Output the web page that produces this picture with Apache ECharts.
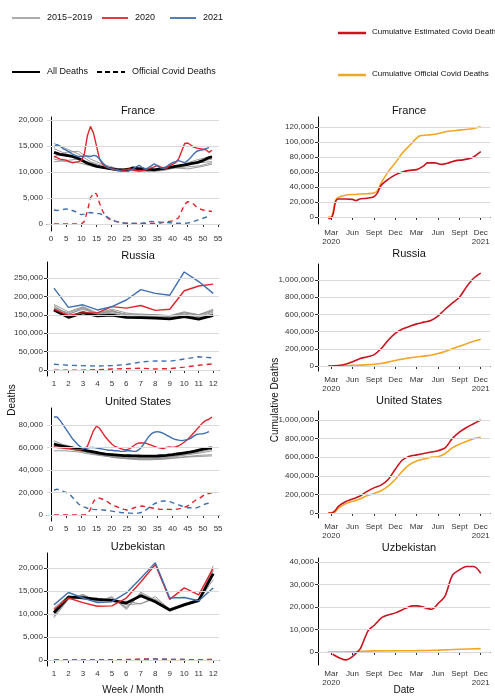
<!DOCTYPE html>
<html><head><meta charset="utf-8">
<script src="https://cdn.jsdelivr.net/npm/echarts@6/dist/echarts.min.js"></script>
<style>html,body{margin:0;padding:0;background:#fff}#c{width:495px;height:700px}</style>
</head><body><div id="c"></div>
<script>
// ---------- DATA ----------
const countries = ["France","Russia","United States","Uzbekistan"];
const greyWeeks = [1,5,9,13,17,21,25,29,33,37,41,45,49,53];
const months = [1,2,3,4,5,6,7,8,9,10,11,12];

const frRed = [13000,12800,12500,12400,12300,12000,11800,11900,12000,12200,13500,17000,18800,17500,15000,12500,11500,11000,10800,10600,10500,10400,10300,10400,10500,10600,10400,10300,10200,10300,10400,10600,10800,11000,11300,11000,10800,10700,11200,11500,11800,12500,14000,15500,15600,15200,14800,14600,14500,14400,14300,13800,14200];
const frBlue = [14800,15300,15000,14500,14200,13900,13500,13200,13000,13000,13100,13100,13000,13200,13100,12500,11800,11200,10800,10600,10500,10300,10200,10000,10000,10300,10600,11000,11300,10900,10600,10800,11200,11600,11200,10800,10700,11000,11500,11800,12000,12200,12000,11800,12200,12800,13500,14000,14200,14300,14500,14700];
const frBlack = [13800,13600,13400,13300,13200,13100,13000,12800,12600,12300,12000,11700,11500,11300,11100,11000,10900,10800,10700,10600,10500,10400,10400,10400,10500,10600,10800,10700,10600,10600,10500,10500,10500,10400,10500,10600,10700,10800,10900,11000,11100,11200,11300,11400,11500,11600,11700,11800,12000,12200,12500,12800,12900];
const frGrey = [
 [15500,14500,13500,12000,11200,10700,10400,10300,10300,10500,11000,11300,12000,12500],
 [13000,13800,14000,12500,11500,10800,10300,10200,10400,10800,11200,11500,11800,12000],
 [12000,12200,12500,11800,11000,10500,10600,10700,10500,10600,10800,11000,11200,11800],
 [14500,13500,12800,11500,10800,10400,10200,10900,10300,10400,10900,11800,12500,13000],
 [12500,12000,11800,11200,10900,10500,10400,10200,10100,10300,10800,10600,11000,11500]];
const frRedCovid = [0,0,0,0,0,0,0,0,0,0,500,2500,5000,6000,5800,4000,2500,1500,1000,700,500,400,300,200,150,100,80,80,80,100,100,100,100,100,100,200,300,400,500,600,800,1200,2500,3800,4300,4200,3800,3200,2900,2700,2600,2500,2400];
const frBlueCovid = [2700,2600,2700,2800,2900,2800,2600,2400,2000,1800,1900,2100,2200,2100,2000,2000,1800,1500,1200,900,600,400,300,200,150,100,80,80,100,150,250,400,500,450,400,350,300,300,250,200,150,150,120,150,200,300,500,700,900,1100,1300,1500];

const ruRed = [165000,148000,155000,155000,172000,168000,175000,162000,165000,215000,228000,233000];
const ruBlue = [222000,170000,177000,163000,172000,190000,218000,208000,203000,266000,240000,208000];
const ruBlack = [163000,143000,155000,147000,149000,143000,142000,141000,139000,145000,138000,148000];
const ruGrey = [
 [178000,158000,172000,155000,165000,155000,150000,150000,148000,158000,150000,165000],
 [170000,152000,165000,152000,160000,150000,148000,148000,145000,155000,148000,160000],
 [175000,150000,168000,150000,158000,152000,152000,150000,147000,152000,145000,157000],
 [165000,145000,160000,148000,155000,147000,145000,145000,143000,150000,142000,153000],
 [168000,155000,170000,153000,162000,149000,147000,147000,146000,156000,150000,162000]];
const ruRedCovid = [0,0,0,1000,3000,4000,5000,3000,4000,8000,13000,17000];
const ruBlueCovid = [16000,13000,12000,11000,12000,15000,22000,25000,24000,30000,36000,33000];

const usRed = [61000,60000,60000,59500,59000,59000,58500,58000,58000,58000,59000,61000,68000,75000,79000,77000,73000,69000,66000,63000,61000,60000,59000,58000,58000,59000,61000,63000,64000,64000,64000,63000,62000,61000,60000,59500,59000,60000,60500,60000,60500,61500,63000,65000,67000,70000,73000,76000,79000,82000,84000,85000,87000];
const usBlue = [87000,87000,84000,80000,76000,72000,68000,65000,62000,60000,59000,59500,60000,60000,59500,59000,58500,58000,57500,57500,57000,57000,56500,56500,57000,57000,56500,56500,58000,61000,65000,69000,72000,73500,74000,73500,72500,71000,69500,68000,67000,66500,66000,66500,67000,68000,70000,71500,72000,72000,73000,74000];
const usBlack = [63000,62000,61500,61000,60500,60000,59500,59000,58500,58000,57500,57000,56500,56000,55500,55000,54500,54000,53800,53600,53400,53200,53000,52800,52700,52600,52500,52500,52400,52300,52300,52200,52200,52300,52400,52600,52800,53000,53300,53600,54000,54400,54800,55200,55600,56000,56600,57200,57800,58400,59000,59300,59500];
const usGrey = [
 [66000,61000,58000,56000,54000,52000,51000,50500,50500,51000,52500,54000,56000,58500],
 [62000,60000,58000,55000,53000,51500,50500,50000,50000,50500,52000,53500,55000,57000],
 [60000,59000,57000,55000,53000,51000,50000,49500,49500,50000,51000,52000,53000,53500],
 [64000,62000,59000,56500,54500,53000,52000,51500,51500,52000,53000,55000,57000,60000],
 [57000,57000,56000,54000,52500,51000,50000,49000,49000,49500,50500,51500,52000,52500]];
const usRedCovid = [0,0,0,0,0,0,0,0,0,0,0,1000,5000,12000,15000,15000,14000,13000,11000,9000,8000,7000,6000,5000,4500,5000,6000,7000,7500,8000,7500,7000,6500,6000,5500,5000,5000,5200,5000,4800,5000,5500,6000,7000,8000,10000,12000,14000,15000,17000,19000,19000,20000];
const usBlueCovid = [22000,23000,22000,21000,20000,19000,16000,13000,10000,8000,7000,6000,5500,5000,4800,4700,4500,4300,4000,3500,3000,2700,2300,2000,1800,1700,1500,1600,1800,2500,4000,6000,8000,10000,11000,12000,12500,12500,12000,11000,10000,9000,8000,7000,6500,6500,6000,6500,7500,9000,10000,10500];

const uzRed = [11000,13500,12500,11700,11800,13500,17000,20800,13200,15700,14200,20000];
const uzBlue = [12000,14700,13500,12500,12700,14600,17800,21200,13500,13600,12900,15700];
const uzBlack = [10300,13700,13600,13200,13000,12400,14000,12700,10900,12000,13000,18800];
const uzGrey = [
 [9200,13200,14300,12700,13800,11000,14800,13000,10600,11900,12700,20500],
 [9800,13500,14000,12500,13500,11500,14500,12500,10800,12000,12800,19500],
 [10800,13800,13500,13000,13000,12000,12300,13300,11200,12300,13200,18500],
 [11300,14000,13200,13500,12800,12800,12200,13800,11000,12100,12900,17500],
 [9500,13300,14200,12800,13600,11300,14300,13100,10700,12000,12700,20000]];
const uzRedCovid = [0,0,0,20,60,100,200,250,150,100,80,120];
const uzBlueCovid = [50,40,40,40,40,60,120,200,150,100,60,80];

// cumulative: [month index (0 = Jan 2020), deaths]
const frEst = [[1.6,-2000],[2.0,-1500],[2.3,5000],[2.6,20000],[3,24000],[4,24000],[5,23500],[5.5,22000],[6,24000],[7,25000],[8,27000],[8.5,32000],[9,42000],[10,50000],[11,56000],[12,60000],[13,62000],[14,63000],[15,68000],[15.5,72000],[16.5,72000],[17,71000],[17.5,70000],[18.5,72000],[19.5,75000],[20.5,76000],[21.5,78000],[22,80000],[23,87000]];
const frOff = [[1.6,0],[2,0],[2.3,8000],[2.6,22000],[3,26000],[4,29000],[5,30000],[6,30500],[7,31000],[8,32000],[8.5,35000],[9,45000],[10,60000],[11,72000],[12,85000],[13,95000],[14,105000],[14.5,108000],[15.5,109000],[16.5,110000],[17.5,112000],[18.5,114000],[19.5,115000],[20.5,116000],[21.5,117000],[23,120000]];
const ruEst = [[1.6,0],[2,0],[3,5000],[4,20000],[5,50000],[6,85000],[7,105000],[8,130000],[9,200000],[10,300000],[11,380000],[12,430000],[13,460000],[14,490000],[15,510000],[16,530000],[17,580000],[18,660000],[19,730000],[20,800000],[21,920000],[22,1020000],[23,1080000]];
const ruOff = [[1.6,0],[3,1000],[4,3000],[5,7000],[6,10000],[7,15000],[8,20000],[9,30000],[10,45000],[11,65000],[12,80000],[13,95000],[14,105000],[15,115000],[16,125000],[17,145000],[18,170000],[19,200000],[20,230000],[21,260000],[23,310000]];
const usEst = [[1.6,0],[2,0],[2.5,20000],[3,70000],[4,120000],[5,150000],[6,180000],[7,230000],[8,270000],[9,300000],[10,360000],[11,470000],[12,570000],[13,610000],[14,625000],[15,640000],[16,655000],[17,670000],[18,700000],[19,800000],[20,870000],[21,920000],[22,960000],[23,1000000]];
const usOff = [[1.6,0],[2.4,5000],[3,50000],[4,100000],[5,125000],[6,150000],[7,185000],[8,210000],[9,240000],[10,290000],[11,360000],[12,450000],[13,520000],[14,560000],[15,580000],[16,600000],[17,605000],[18,640000],[19,700000],[20,740000],[21,770000],[22,800000],[23,815000]];
const uzEst = [[2.2,-1000],[4.1,-3500],[4.8,-2500],[5.5,-500],[6.1,1500],[7.2,9500],[8.1,12000],[9.2,15500],[11.1,17500],[12.5,19500],[13.4,20500],[14.1,20500],[16.1,19000],[17,21500],[18,25000],[19,34000],[20,36500],[21,38000],[22,38000],[23,35000]];
const uzOff = [[1.5,0],[5,100],[8,500],[14,600],[17,800],[20,1200],[23,1500]];

const dateTicks = [2,5,8,11,14,17,20,23];
const dateLabels = ["Mar\n2020","Jun","Sept","Dec","Mar","Jun","Sept","Dec\n2021"];
const weekTicks = [0,5,10,15,20,25,30,35,40,45,50,55];

// ---------- BUILD ----------
const RED='#e0242b', BLUE='#3f6fae', GREY='#8f8f8f', EST='#c8141e', OFF='#f2a623';
const FONT='Liberation Sans';
const weeks = n => Array.from({length:n},(_,i)=>i+1);
const zip = (xs,ys)=>ys.map((y,i)=>[xs[i],y]);

const left = [
 {top:117,h:114,min:-1350,max:20600,ticks:[0,5000,10000,15000,20000],xmin:-1.3,xmax:55.3,xt:weekTicks,weekly:true,
  red:frRed,blue:frBlue,black:frBlack,grey:frGrey,rc:frRedCovid,bc:frBlueCovid},
 {top:262,h:114,min:-16000,max:293000,ticks:[0,50000,100000,150000,200000,250000],xmin:0.52,xmax:12.4,xt:months,weekly:false,
  red:ruRed,blue:ruBlue,black:ruBlack,grey:ruGrey,rc:ruRedCovid,bc:ruBlueCovid},
 {top:408,h:113,min:-5300,max:95000,ticks:[0,20000,40000,60000,80000],xmin:-1.3,xmax:55.3,xt:weekTicks,weekly:true,
  red:usRed,blue:usBlue,black:usBlack,grey:usGrey,rc:usRedCovid,bc:usBlueCovid},
 {top:553,h:113,min:-1300,max:23300,ticks:[0,5000,10000,15000,20000],xmin:0.52,xmax:12.4,xt:months,weekly:false,
  red:uzRed,blue:uzBlue,black:uzBlack,grey:uzGrey,rc:uzRedCovid,bc:uzBlueCovid}];
const right = [
 {top:117,h:107,min:-9300,max:133000,ticks:[0,20000,40000,60000,80000,100000,120000],est:frEst,off:frOff},
 {top:264,h:107,min:-58000,max:1186000,ticks:[0,200000,400000,600000,800000,1000000],est:ruEst,off:ruOff},
 {top:411,h:107,min:-54000,max:1097000,ticks:[0,200000,400000,600000,800000,1000000],est:usEst,off:usOff},
 {top:558,h:107,min:-5800,max:41800,ticks:[0,10000,20000,30000,40000],est:uzEst,off:uzOff}];

const grid=[],xAxis=[],yAxis=[],series=[],title=[];
const fmt = v => v.toLocaleString('en-US');
const axLine = {show:true,lineStyle:{color:'#000',width:1}};
const tick = {show:true,length:3,lineStyle:{color:'#333'}};
function yAx(gi,p){
  return {type:'value',gridIndex:gi,min:p.min,max:p.max,
    axisLine:axLine,axisTick:{...tick,customValues:p.ticks},
    axisLabel:{customValues:p.ticks,formatter:fmt,fontSize:8,color:'#333',fontFamily:FONT,margin:4},
    splitLine:{show:false}};
}
function gridLines(gi,p){
  series.push({type:'line',xAxisIndex:gi,yAxisIndex:gi,data:[],silent:true,z:0,
    markLine:{silent:true,symbol:'none',label:{show:false},animation:false,
      lineStyle:{color:'#d9d9d9',width:1,type:'solid'},data:p.ticks.map(v=>({yAxis:v}))}});
}
left.forEach((p,i)=>{
  const gi=grid.length;
  grid.push({left:47,right:276,top:p.top,height:p.h});
  title.push({text:countries[i],left:133,top:p.top-17,textAlign:'center',textStyle:{fontSize:11,fontWeight:'normal',color:'#111',fontFamily:FONT}});
  xAxis.push({type:'value',gridIndex:gi,min:p.xmin,max:p.xmax,axisLine:axLine,
    axisTick:{...tick,customValues:p.xt},axisLabel:{customValues:p.xt,fontSize:8,color:'#333',fontFamily:FONT,margin:4},splitLine:{show:false}});
  yAxis.push(yAx(gi,p));
  gridLines(gi,p);
  const S=(data,color,w,dash,z)=>series.push({type:'line',xAxisIndex:gi,yAxisIndex:gi,data,showSymbol:false,silent:true,z:z||2,
    lineStyle:{color,width:w,type:dash?[5,4]:'solid'}});
  p.grey.forEach(g=>S(zip(p.weekly?greyWeeks:months,g),GREY,0.9,false,1));
  S(zip(p.weekly?weeks(p.black.length):months,p.black),'#000',2.8,false,3);
  S(zip(p.weekly?weeks(p.red.length):months,p.red),RED,1.4,false,4);
  S(zip(p.weekly?weeks(p.blue.length):months,p.blue),BLUE,1.4,false,4);
  S(zip(p.weekly?weeks(p.rc.length):months,p.rc),RED,1.4,true,4);
  S(zip(p.weekly?weeks(p.bc.length):months,p.bc),BLUE,1.4,true,4);
});
right.forEach((p,i)=>{
  const gi=grid.length;
  grid.push({left:318,right:5,top:p.top,height:p.h});
  title.push({text:countries[i],left:404,top:p.top-(i==0?17:21),textAlign:'center',textStyle:{fontSize:11,fontWeight:'normal',color:'#111',fontFamily:FONT}});
  xAxis.push({type:'value',gridIndex:gi,min:0.15,max:24.3,axisLine:axLine,
    axisTick:{...tick,customValues:dateTicks},
    axisLabel:{customValues:dateTicks,formatter:v=>dateLabels[dateTicks.indexOf(v)]||'',fontSize:8,color:'#333',fontFamily:FONT,margin:4,lineHeight:9},splitLine:{show:false}});
  yAxis.push(yAx(gi,p));
  gridLines(gi,p);
  series.push({type:'line',xAxisIndex:gi,yAxisIndex:gi,data:p.off,showSymbol:false,smooth:0.3,silent:true,lineStyle:{color:OFF,width:1.6}});
  series.push({type:'line',xAxisIndex:gi,yAxisIndex:gi,data:p.est,showSymbol:false,smooth:0.3,silent:true,lineStyle:{color:EST,width:1.6}});
});

const T=(x,y,text,opt)=>({type:'text',left:x,top:y,style:{text,fontSize:9,fill:'#111',fontFamily:FONT,...(opt||{})}});
const L=(x1,y,x2,color,w,dash)=>({type:'line',shape:{x1,y1:y,x2,y2:y},style:{stroke:color,lineWidth:w,lineDash:dash?[5,3]:null}});
const graphic=[
  L(12,18,40,GREY,1.5),T(47,13,'2015−2019'),
  L(102,18,128,RED,1.8),T(135,13,'2020'),
  L(170,18,196,BLUE,1.8),T(203,13,'2021'),
  L(12,72,40,'#000',2),T(47,67,'All Deaths'),
  L(97,72,125,'#000',2,true),T(132,67,'Official Covid Deaths'),
  L(338,33,366,EST,2.5),T(372,28,'Cumulative Estimated Covid Deaths',{fontSize:8}),
  L(338,75,366,OFF,2.5),T(372,70,'Cumulative Official Covid Deaths',{fontSize:8}),
  {type:'text',x:12,y:400,rotation:Math.PI/2,style:{text:'Deaths',fontSize:10,fill:'#111',fontFamily:FONT,align:'center',verticalAlign:'middle'}},
  {type:'text',x:275,y:400,rotation:Math.PI/2,style:{text:'Cumulative Deaths',fontSize:10,fill:'#111',fontFamily:FONT,align:'center',verticalAlign:'middle'}},
  {type:'text',x:133,y:690,style:{text:'Week / Month',fontSize:10,fill:'#111',fontFamily:FONT,align:'center',verticalAlign:'middle'}},
  {type:'text',x:404,y:690,style:{text:'Date',fontSize:10,fill:'#111',fontFamily:FONT,align:'center',verticalAlign:'middle'}}
];

const chart=echarts.init(document.getElementById('c'),null,{renderer:'canvas'});
chart.setOption({backgroundColor:'#fff',animation:false,title,grid,xAxis,yAxis,series,graphic});
</script></body></html>
